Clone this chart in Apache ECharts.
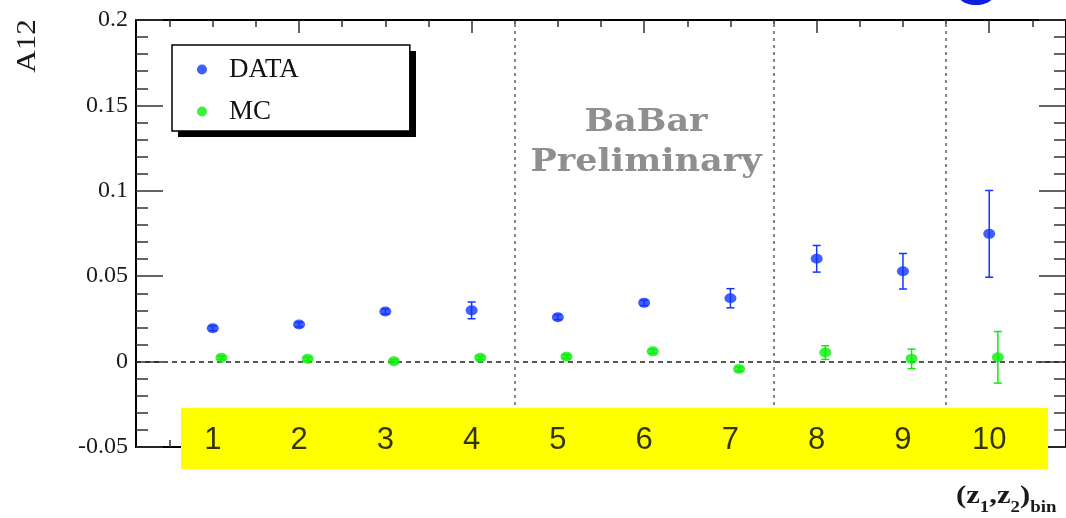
<!DOCTYPE html>
<html><head><meta charset="utf-8">
<script src="https://cdn.jsdelivr.net/npm/echarts@6/dist/echarts.min.js"></script>
<style>html,body{margin:0;padding:0;background:#fff}#c{width:1066px;height:518px}</style>
</head><body><div id="c"></div>
<script>
const bins = [1, 2, 3, 4, 5, 6, 7, 8, 9, 10];
const binLabels = ['1', '2', '3', '4', '5', '6', '7', '8', '9', '10'];
const dataVals = [0.0195, 0.0217, 0.0293, 0.0300, 0.0260, 0.0344, 0.0371, 0.0602, 0.0529, 0.0748];
const dataErr  = [0.0014, 0.0014, 0.0015, 0.0049, 0.0015, 0.0016, 0.0056, 0.0078, 0.0104, 0.0254];
const mcVals   = [0.0022, 0.0016, 0.0002, 0.0022, 0.0029, 0.0060, -0.0043, 0.0053, 0.0016, 0.0025];
const mcErr    = [0.0010, 0.0010, 0.0010, 0.0011, 0.0011, 0.0012, 0.0013, 0.0040, 0.0057, 0.0151];
const mcShift = 0.1;
const dividers = [4.5, 7.5, 9.5];
const xMajorTicks = [2, 4, 6, 8, 10];
const xMinorTicks = [0.5, 1, 1.5, 2, 2.5, 3, 3.5, 4, 4.5, 5, 5.5, 6, 6.5, 7, 7.5, 8, 8.5, 9, 9.5, 10, 10.5];
const labelY = -0.0460;

const X_MIN = 0.11, X_MAX = 10.89;
const tickStyle = { color: '#333', width: 1.5 };

function xAx(pos, ticks, len, showLine) {
  return {
    type: 'value', position: pos, min: X_MIN, max: X_MAX,
    axisLine: { show: showLine, onZero: false, lineStyle: { color: '#000', width: 2 } },
    axisTick: { show: true, inside: true, length: len, customValues: ticks, lineStyle: tickStyle },
    axisLabel: { show: false }, splitLine: { show: false }
  };
}
function yAx(pos, showLabel) {
  return {
    type: 'value', position: pos, min: -0.05, max: 0.2, interval: 0.05,
    axisLine: { show: true, onZero: false, lineStyle: { color: '#000', width: 2 } },
    axisTick: { show: true, inside: true, length: 27, lineStyle: tickStyle },
    minorTick: { show: true, splitNumber: 5, length: 12, lineStyle: tickStyle },
    axisLabel: { show: showLabel, color: '#1a1a1a', fontFamily: 'Liberation Serif', fontSize: 24, margin: 8 },
    splitLine: { show: false }
  };
}
function errItem(color) {
  return function (params, api) {
    const x = api.value(0), lo = api.value(1), hi = api.value(2);
    const p1 = api.coord([x, hi]), p2 = api.coord([x, lo]);
    const w = 4;
    const st = { stroke: color, lineWidth: 1.5 };
    return { type: 'group', children: [
      { type: 'line', shape: { x1: p1[0], y1: p1[1], x2: p2[0], y2: p2[1] }, style: st },
      { type: 'line', shape: { x1: p1[0] - w, y1: p1[1], x2: p1[0] + w, y2: p1[1] }, style: st },
      { type: 'line', shape: { x1: p2[0] - w, y1: p2[1], x2: p2[0] + w, y2: p2[1] }, style: st }
    ]};
  };
}
const blue = '#1236ff', green = '#0aee0a';

const chart = echarts.init(document.getElementById('c'), null, { renderer: 'canvas' });
chart.setOption({
  animation: false,
  backgroundColor: '#fff',
  grid: { left: 136, right: -4, top: 20, bottom: 71, containLabel: false },
  xAxis: [
    xAx('bottom', xMinorTicks, 7, true),
    xAx('top', xMinorTicks, 7, true),
    xAx('top', xMajorTicks, 13, false),
    xAx('bottom', xMajorTicks, 13, false)
  ],
  yAxis: [yAx('left', true), yAx('right', false)],
  legend: {
    data: ['DATA', 'MC'], orient: 'vertical', left: 172, top: 45, z: 10,
    itemWidth: 44, itemHeight: 10, itemGap: 15, icon: 'circle', symbolKeepAspect: true,
    padding: [11, 111, 6, 25],
    backgroundColor: '#fff', borderColor: '#000', borderWidth: 1.5,
    textStyle: { fontFamily: 'Liberation Serif', fontSize: 27, color: '#111', lineHeight: 24 }
  },
  graphic: [
    { type: 'rect', z: 1, shape: { x: 178, y: 51, width: 238, height: 86 }, style: { fill: '#000' } },
    { type: 'rect', z: 100, shape: { x: 181, y: 408, width: 867, height: 61 }, style: { fill: '#ffff00' } },
    { type: 'text', x: 646, y: 143, z: 50, scaleX: 1.13, style: { text: 'BaBar\nPreliminary', textAlign: 'center', textVerticalAlign: 'middle',
        font: 'bold 31px "DejaVu Serif"', lineHeight: 40, fill: '#8f8f8f' } },
    { type: 'text', x: 28, y: 46, rotation: Math.PI / 2, scaleX: 1.15, style: { text: 'A12', textAlign: 'center', textVerticalAlign: 'middle',
        font: '27px "Liberation Serif"', fill: '#1a1a1a' } },
    { type: 'text', x: 956, y: 476, scaleX: 1.18, style: {
        text: '{a|(z}{s|1}{a|,z}{s|2}{a|)}{s|bin}',
        rich: {
          a: { fontFamily: 'Liberation Serif', fontWeight: 'bold', fontSize: 26, lineHeight: 40, fill: '#1a1a1a' },
          s: { fontFamily: 'Liberation Serif', fontWeight: 'bold', fontSize: 16, lineHeight: 14, verticalAlign: 'bottom', fill: '#1a1a1a' }
        } } },
    { type: 'ellipse', shape: { cx: 976, cy: -4, rx: 17, ry: 9 }, style: { fill: '#1020e0' } }
  ],
  series: [
    {
      name: 'DATA', type: 'scatter', xAxisIndex: 0, yAxisIndex: 0, z: 5,
      symbol: 'circle', symbolSize: [12, 10], itemStyle: { color: blue },
      data: bins.map((b, i) => [b, dataVals[i]]),
      markLine: {
        silent: true, symbol: 'none', label: { show: false }, z: 3,
        data: [
          { yAxis: 0, lineStyle: { color: '#222', type: [5, 4], width: 1.5 } }
        ].concat(dividers.map(d => ({ xAxis: d, lineStyle: { color: '#888', type: [3, 4], width: 2 } })))
      }
    },
    {
      name: 'MC', type: 'scatter', xAxisIndex: 0, yAxisIndex: 0, z: 5,
      symbol: 'circle', symbolSize: [12, 10], itemStyle: { color: green },
      data: bins.map((b, i) => [b + mcShift, mcVals[i]])
    },
    {
      type: 'custom', xAxisIndex: 0, yAxisIndex: 0, z: 4, renderItem: errItem(blue),
      encode: { x: 0, y: [1, 2] },
      data: bins.map((b, i) => [b, dataVals[i] - dataErr[i], dataVals[i] + dataErr[i]])
    },
    {
      type: 'custom', xAxisIndex: 0, yAxisIndex: 0, z: 4, renderItem: errItem(green),
      encode: { x: 0, y: [1, 2] },
      data: bins.map((b, i) => [b + mcShift, mcVals[i] - mcErr[i], mcVals[i] + mcErr[i]])
    },
    {
      type: 'scatter', xAxisIndex: 0, yAxisIndex: 0, z: 200, silent: true,
      symbolSize: 1, itemStyle: { color: 'rgba(0,0,0,0)' },
      label: { show: true, position: 'inside', color: '#000', fontFamily: 'Liberation Sans', fontSize: 31,
        formatter: p => binLabels[p.dataIndex] },
      data: bins.map(b => [b, labelY])
    }
  ]
});
</script></body></html>
